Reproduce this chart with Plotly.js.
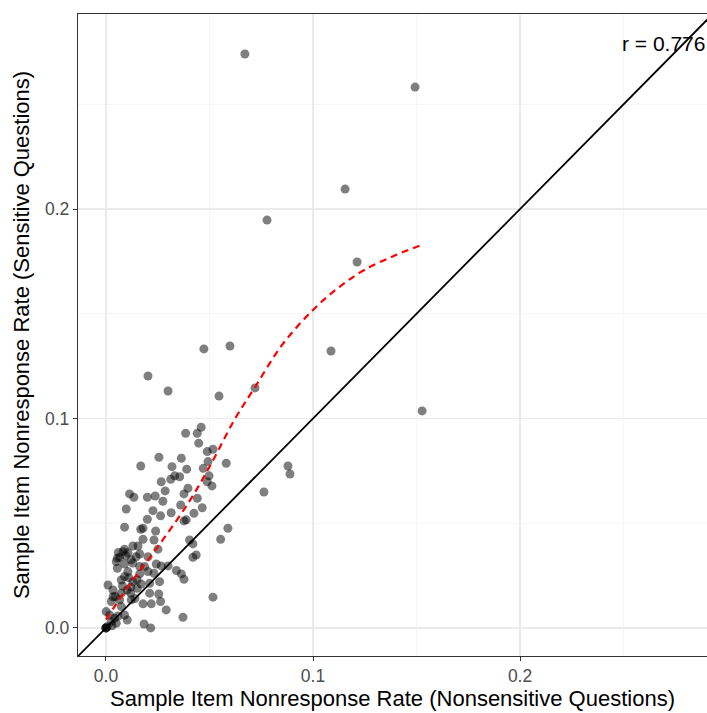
<!DOCTYPE html>
<html>
<head>
<meta charset="utf-8">
<script src="https://cdn.plot.ly/plotly-3.0.1.min.js"></script>
<style>
  html, body { margin: 0; padding: 0; background: #ffffff; }
  #chart { width: 707px; height: 713px; }
</style>
</head>
<body>
<div id="chart"></div>
<script>
// Item nonresponse rate per sample: nonsensitive (x) vs sensitive (y) questions
const nonsensitive = [
  0.0671, 0.1493, 0.1155, 0.0778, 0.1213, 0.0599, 0.0473, 0.1087, 0.0203, 0.0300,
  0.0720, 0.0546, 0.1527, 0.0879, 0.0889, 0.0763,
  0.0460, 0.0385, 0.0441, 0.0448, 0.0489, 0.0517, 0.0256, 0.0364, 0.0168, 0.0319,
  0.0390, 0.0470, 0.0581, 0.0493, 0.0332, 0.0356, 0.0267, 0.0313, 0.0498, 0.0489,
  0.0512, 0.0286, 0.0114, 0.0135, 0.0200, 0.0238, 0.0275, 0.0396, 0.0377, 0.0441,
  0.0361, 0.0465, 0.0098, 0.0227, 0.0315, 0.0264, 0.0425, 0.0200, 0.0377, 0.0388,
  0.0090, 0.0168, 0.0179, 0.0240, 0.0589, 0.0554, 0.0179, 0.0232, 0.0404, 0.0420,
  0.0090, 0.0130, 0.0155, 0.0251, 0.0163, 0.0203, 0.0066, 0.0436, 0.0420, 0.0050,
  0.0090, 0.0122, 0.0243, 0.0267, 0.0300, 0.0055, 0.0106, 0.0163, 0.0203, 0.0232,
  0.0340, 0.0364, 0.0377, 0.0010, 0.0074, 0.0130, 0.0211, 0.0259, 0.0074, 0.0103,
  0.0034, 0.0119, 0.0211, 0.0255, 0.0517, 0.0026, 0.0066, 0.0179, 0.0219, 0.0264,
  0.0291, 0.0001, 0.0018, 0.0090, 0.0103, 0.0050, 0.0006, 0.0000, 0.0184, 0.0216,
  0.0372, 0.0026, 0.0042, 0.0074, 0.0055, 0.0106, 0.0146, 0.0187, 0.0090, 0.0151,
  0.0122, 0.0034, 0.0082, 0.0163, 0.0058, 0.0029, 0.0000, 0.0000,
  0.0060, 0.0095, 0.0130, 0.0110, 0.0150, 0.0080, 0.0120, 0.0170, 0.0045, 0.0140
];
const sensitive = [
  0.2740, 0.2582, 0.2095, 0.1947, 0.1747, 0.1346, 0.1332, 0.1322, 0.1203, 0.1131,
  0.1146, 0.1107, 0.1036, 0.0773, 0.0735, 0.0649,
  0.0958, 0.0929, 0.0929, 0.0882, 0.0842, 0.0853, 0.0815, 0.0810, 0.0773, 0.0770,
  0.0758, 0.0762, 0.0786, 0.0794, 0.0726, 0.0722, 0.0698, 0.0710, 0.0726, 0.0698,
  0.0678, 0.0654, 0.0640, 0.0624, 0.0624, 0.0630, 0.0605, 0.0667, 0.0640, 0.0619,
  0.0587, 0.0574, 0.0568, 0.0560, 0.0550, 0.0535, 0.0547, 0.0519, 0.0511, 0.0516,
  0.0481, 0.0471, 0.0476, 0.0463, 0.0476, 0.0423, 0.0423, 0.0420, 0.0420, 0.0401,
  0.0376, 0.0391, 0.0391, 0.0376, 0.0353, 0.0340, 0.0337, 0.0348, 0.0337, 0.0316,
  0.0305, 0.0325, 0.0305, 0.0296, 0.0296, 0.0285, 0.0269, 0.0258, 0.0269, 0.0261,
  0.0274, 0.0258, 0.0232, 0.0205, 0.0229, 0.0221, 0.0213, 0.0221, 0.0166, 0.0181,
  0.0181, 0.0166, 0.0166, 0.0162, 0.0147, 0.0126, 0.0134, 0.0115, 0.0115, 0.0126,
  0.0086, 0.0078, 0.0062, 0.0062, 0.0038, 0.0022, 0.0006, 0.0000, 0.0019, 0.0000,
  0.0051, 0.0030, 0.0046, 0.0102, 0.0333, 0.0359, 0.0340, 0.0293, 0.0245, 0.0189,
  0.0134, 0.0149, 0.0364, 0.0293, 0.0057, 0.0010, 0.0000, 0.0000,
  0.0360, 0.0345, 0.0310, 0.0240, 0.0230, 0.0200, 0.0195, 0.0210, 0.0150, 0.0140
];

// Smoothed trend (loess-style fit)
const smoothX = [0.000, 0.012, 0.025, 0.040, 0.051, 0.062, 0.072, 0.085, 0.100, 0.113, 0.125, 0.140, 0.153];
const smoothY = [0.004, 0.0215, 0.0387, 0.060, 0.0787, 0.0993, 0.115, 0.135, 0.1518, 0.163, 0.171, 0.178, 0.183];

const correlationLabel = 'r = 0.776';
const tickValues = [0.0, 0.1, 0.2];
const tickLabels = ['0.0', '0.1', '0.2'];

const xRange = [-0.0135, 0.2903];
const yRange = [-0.0134, 0.2931];

// y = x reference line spanning the visible panel
const diagLo = Math.min(xRange[0], yRange[0]);
const diagHi = Math.max(xRange[1], yRange[1]);

const FONT = 'Liberation Sans, Arial, Helvetica, sans-serif';

const traces = [
  {
    x: nonsensitive, y: sensitive,
    type: 'scatter', mode: 'markers',
    marker: { color: '#000000', opacity: 0.5, size: 9, line: { width: 0 } },
    hoverinfo: 'x+y'
  },
  {
    x: [diagLo, diagHi], y: [diagLo, diagHi],
    type: 'scatter', mode: 'lines',
    line: { color: '#000000', width: 1.8 },
    hoverinfo: 'skip'
  },
  {
    x: smoothX, y: smoothY,
    type: 'scatter', mode: 'lines',
    line: { color: '#FF0000', width: 2.2, dash: '7px,5px', shape: 'spline' },
    hoverinfo: 'skip'
  }
];

const axisCommon = {
  tickmode: 'array',
  tickvals: tickValues,
  ticktext: tickLabels,
  ticks: 'outside',
  ticklen: 4,
  tickwidth: 1,
  tickcolor: '#333333',
  tickfont: { family: FONT, size: 17.5, color: '#4D4D4D' },
  showgrid: true,
  gridcolor: '#EBEBEB',
  gridwidth: 1.3,
  minor: { dtick: 0.05, tick0: 0, showgrid: true, gridcolor: '#F2F2F2', gridwidth: 0.7, ticks: '' },
  zeroline: false,
  showline: true,
  linecolor: '#333333',
  linewidth: 1.2,
  mirror: true,
  automargin: false,
  fixedrange: true
};

const layout = {
  width: 707,
  height: 713,
  margin: { l: 78, r: 0, t: 14, b: 57 },
  paper_bgcolor: '#ffffff',
  plot_bgcolor: '#ffffff',
  showlegend: false,
  font: { family: FONT, color: '#000000' },
  xaxis: Object.assign({}, axisCommon, {
    range: xRange,
    title: { text: 'Sample Item Nonresponse Rate (Nonsensitive Questions)', font: { family: FONT, size: 22, color: '#000000' }, standoff: 5 }
  }),
  yaxis: Object.assign({}, axisCommon, {
    range: yRange,
    title: { text: 'Sample Item Nonresponse Rate (Sensitive Questions)', font: { family: FONT, size: 22, color: '#000000' }, standoff: 9 }
  }),
  annotations: [
    {
      text: correlationLabel,
      xref: 'paper', x: 1, xanchor: 'right',
      yref: 'y', y: 0.2788, yanchor: 'middle',
      showarrow: false,
      font: { family: FONT, size: 21, color: '#000000' }
    }
  ]
};

Plotly.newPlot('chart', traces, layout, { displayModeBar: false, staticPlot: true });
</script>
</body>
</html>
